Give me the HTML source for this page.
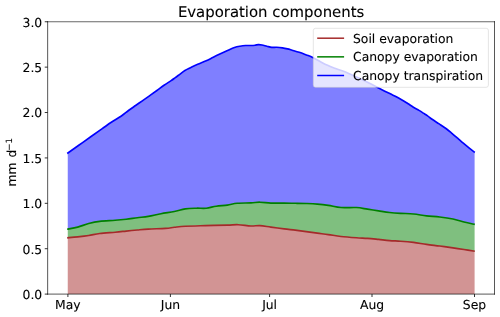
<!DOCTYPE html>
<html><head><meta charset="utf-8"><title>Evaporation components</title>
<style>
html,body{margin:0;padding:0;background:#fff;}
svg{display:block;font-family:"DejaVu Sans","Liberation Sans",sans-serif;}
text{fill:#000;stroke:#000;stroke-width:0.1px;text-rendering:geometricPrecision;}
</style></head><body>
<svg width="500" height="317" viewBox="0 0 500 317">
<rect width="500" height="317" fill="#fff"/>

<path d="M67.75,237.81 C69.41,237.65 74.21,237.23 77.70,236.84 C81.19,236.45 85.03,236.04 88.70,235.48 C92.37,234.93 95.28,234.05 99.70,233.50 C104.12,232.95 110.78,232.60 115.20,232.20 C119.62,231.80 122.52,231.47 126.20,231.10 C129.88,230.73 133.62,230.33 137.30,230.00 C140.98,229.67 143.60,229.37 148.30,229.10 C153.00,228.83 161.17,228.70 165.50,228.40 C169.83,228.10 171.00,227.67 174.30,227.30 C177.60,226.93 180.15,226.48 185.30,226.20 C190.45,225.92 198.20,225.78 205.20,225.60 C212.20,225.42 221.78,225.25 227.30,225.10 C232.82,224.95 234.35,224.55 238.30,224.70 C242.25,224.85 247.40,225.85 251.00,226.00 C254.60,226.15 256.58,225.42 259.90,225.60 C263.22,225.78 266.85,226.55 270.90,227.10 C274.95,227.65 280.15,228.39 284.20,228.90 C288.25,229.41 291.53,229.72 295.20,230.17 C298.87,230.62 302.52,231.11 306.20,231.60 C309.88,232.09 313.62,232.64 317.30,233.13 C320.98,233.62 324.35,234.01 328.30,234.56 C332.25,235.11 336.30,235.92 341.00,236.45 C345.70,236.98 352.08,237.43 356.50,237.74 C360.92,238.06 363.82,238.06 367.50,238.34 C371.18,238.62 374.92,239.05 378.60,239.43 C382.28,239.82 385.93,240.33 389.60,240.63 C393.27,240.93 396.62,240.93 400.60,241.23 C404.58,241.52 409.18,241.89 413.50,242.42 C417.82,242.95 422.13,243.82 426.50,244.42 C430.87,245.02 435.28,245.45 439.70,246.01 C444.12,246.58 448.95,247.23 453.00,247.81 C457.05,248.39 460.40,248.92 464.00,249.50 C467.60,250.09 472.83,251.00 474.60,251.30 L474.60,294.10 C406.79,294.10 135.56,294.10 67.75,294.10 Z" fill="#d29494"/>
<path d="M67.75,229.22 C69.41,228.87 74.21,228.02 77.70,227.08 C81.19,226.14 85.03,224.51 88.70,223.57 C92.37,222.62 95.28,221.94 99.70,221.40 C104.12,220.86 110.78,220.67 115.20,220.30 C119.62,219.93 122.52,219.63 126.20,219.20 C129.88,218.77 133.62,218.17 137.30,217.70 C140.98,217.23 144.35,217.07 148.30,216.40 C152.25,215.73 156.67,214.52 161.00,213.70 C165.33,212.88 170.25,212.30 174.30,211.50 C178.35,210.70 181.62,209.45 185.30,208.90 C188.98,208.35 192.90,208.32 196.40,208.20 C199.90,208.08 203.00,208.53 206.30,208.20 C209.60,207.87 212.70,206.72 216.20,206.20 C219.70,205.68 223.80,205.58 227.30,205.10 C230.80,204.62 233.25,203.67 237.20,203.30 C241.15,202.93 247.22,203.08 251.00,202.90 C254.78,202.72 256.58,202.17 259.90,202.20 C263.22,202.23 266.85,202.95 270.90,203.10 C274.95,203.25 280.15,203.07 284.20,203.10 C288.25,203.13 291.53,203.20 295.20,203.27 C298.87,203.34 302.52,203.39 306.20,203.52 C309.88,203.65 313.62,203.77 317.30,204.06 C320.98,204.36 324.35,204.73 328.30,205.31 C332.25,205.89 336.30,207.18 341.00,207.55 C345.70,207.92 352.08,207.28 356.50,207.55 C360.92,207.82 363.82,208.60 367.50,209.15 C371.18,209.70 374.92,210.30 378.60,210.85 C382.28,211.40 385.93,212.03 389.60,212.45 C393.27,212.87 396.62,213.10 400.60,213.35 C404.58,213.60 409.18,213.53 413.50,213.95 C417.82,214.37 422.13,215.35 426.50,215.85 C430.87,216.35 435.28,216.42 439.70,216.95 C444.12,217.48 448.95,218.18 453.00,219.02 C457.05,219.86 460.40,221.11 464.00,222.01 C467.60,222.91 472.83,224.01 474.60,224.41 L474.60,251.30 C472.83,251.00 467.60,250.09 464.00,249.50 C460.40,248.92 457.05,248.39 453.00,247.81 C448.95,247.23 444.12,246.58 439.70,246.01 C435.28,245.45 430.87,245.02 426.50,244.42 C422.13,243.82 417.82,242.95 413.50,242.42 C409.18,241.89 404.58,241.52 400.60,241.23 C396.62,240.93 393.27,240.93 389.60,240.63 C385.93,240.33 382.28,239.82 378.60,239.43 C374.92,239.05 371.18,238.62 367.50,238.34 C363.82,238.06 360.92,238.06 356.50,237.74 C352.08,237.43 345.70,236.98 341.00,236.45 C336.30,235.92 332.25,235.11 328.30,234.56 C324.35,234.01 320.98,233.62 317.30,233.13 C313.62,232.64 309.88,232.09 306.20,231.60 C302.52,231.11 298.87,230.62 295.20,230.17 C291.53,229.72 288.25,229.41 284.20,228.90 C280.15,228.39 274.95,227.65 270.90,227.10 C266.85,226.55 263.22,225.78 259.90,225.60 C256.58,225.42 254.60,226.15 251.00,226.00 C247.40,225.85 242.25,224.85 238.30,224.70 C234.35,224.55 232.82,224.95 227.30,225.10 C221.78,225.25 212.20,225.42 205.20,225.60 C198.20,225.78 190.45,225.92 185.30,226.20 C180.15,226.48 177.60,226.93 174.30,227.30 C171.00,227.67 169.83,228.10 165.50,228.40 C161.17,228.70 153.00,228.83 148.30,229.10 C143.60,229.37 140.98,229.67 137.30,230.00 C133.62,230.33 129.88,230.73 126.20,231.10 C122.52,231.47 119.62,231.80 115.20,232.20 C110.78,232.60 104.12,232.95 99.70,233.50 C95.28,234.05 92.37,234.93 88.70,235.48 C85.03,236.04 81.19,236.45 77.70,236.84 C74.21,237.23 69.41,237.65 67.75,237.81 Z" fill="#7fbf7f"/>
<path d="M67.75,153.50 C70.28,151.63 77.21,146.40 82.90,142.30 C88.59,138.20 97.17,132.23 101.90,128.90 C106.63,125.57 108.05,124.45 111.30,122.30 C114.55,120.15 118.53,117.94 121.40,115.97 C124.27,114.01 126.13,112.24 128.50,110.50 C130.87,108.76 133.23,107.18 135.60,105.53 C137.97,103.87 140.33,102.23 142.70,100.57 C145.07,98.92 147.43,97.26 149.80,95.57 C152.17,93.89 154.53,92.20 156.90,90.48 C159.27,88.75 161.63,86.84 164.00,85.20 C166.37,83.56 169.27,81.86 171.10,80.64 C172.93,79.41 173.45,78.99 175.00,77.85 C176.55,76.71 178.75,75.03 180.40,73.80 C182.05,72.57 183.20,71.47 184.90,70.45 C186.60,69.43 188.47,68.67 190.60,67.65 C192.73,66.63 195.10,65.48 197.70,64.35 C200.30,63.22 203.60,62.04 206.20,60.85 C208.80,59.66 210.93,58.38 213.30,57.20 C215.67,56.03 218.03,54.91 220.40,53.80 C222.77,52.69 225.15,51.59 227.50,50.55 C229.85,49.51 232.43,48.27 234.50,47.55 C236.57,46.83 238.05,46.58 239.90,46.25 C241.75,45.92 243.70,45.67 245.60,45.55 C247.50,45.42 249.73,45.56 251.30,45.50 C252.87,45.44 253.80,45.35 255.00,45.20 C256.20,45.05 257.33,44.64 258.50,44.60 C259.67,44.56 260.60,44.68 262.00,44.95 C263.40,45.22 265.27,45.80 266.90,46.20 C268.53,46.60 270.18,47.17 271.80,47.35 C273.42,47.53 274.82,47.21 276.60,47.30 C278.38,47.39 280.68,47.63 282.50,47.90 C284.32,48.17 285.90,48.52 287.50,48.90 C289.10,49.28 290.15,49.63 292.10,50.20 C294.05,50.77 296.83,51.52 299.20,52.30 C301.57,53.08 304.05,54.05 306.30,54.90 C308.55,55.75 310.33,56.26 312.70,57.40 C315.07,58.54 318.02,60.40 320.50,61.73 C322.98,63.05 325.22,64.27 327.60,65.35 C329.98,66.43 332.38,67.31 334.80,68.22 C337.22,69.14 339.70,69.90 342.10,70.83 C344.50,71.75 346.83,72.72 349.20,73.75 C351.57,74.78 353.93,75.90 356.30,76.97 C358.67,78.05 361.03,79.09 363.40,80.20 C365.77,81.31 368.13,82.42 370.50,83.65 C372.87,84.88 375.22,86.33 377.60,87.60 C379.98,88.88 382.62,90.22 384.80,91.30 C386.98,92.38 388.78,93.17 390.70,94.08 C392.62,94.98 394.42,95.75 396.30,96.72 C398.18,97.70 400.10,98.79 402.00,99.93 C403.90,101.06 405.80,102.32 407.70,103.53 C409.60,104.73 411.52,106.04 413.40,107.18 C415.28,108.31 417.35,109.37 419.00,110.35 C420.65,111.33 421.87,112.16 423.30,113.08 C424.73,113.99 426.13,114.79 427.60,115.83 C429.07,116.86 430.17,117.95 432.10,119.30 C434.03,120.65 436.83,122.35 439.20,123.92 C441.57,125.50 444.18,127.18 446.30,128.75 C448.42,130.32 450.02,131.75 451.90,133.32 C453.78,134.90 455.70,136.58 457.60,138.23 C459.50,139.88 461.40,141.60 463.30,143.23 C465.20,144.85 467.12,146.40 469.00,147.95 C470.88,149.50 473.67,151.74 474.60,152.50 L474.60,224.41 C472.83,224.01 467.60,222.91 464.00,222.01 C460.40,221.11 457.05,219.86 453.00,219.02 C448.95,218.18 444.12,217.48 439.70,216.95 C435.28,216.42 430.87,216.35 426.50,215.85 C422.13,215.35 417.82,214.37 413.50,213.95 C409.18,213.53 404.58,213.60 400.60,213.35 C396.62,213.10 393.27,212.87 389.60,212.45 C385.93,212.03 382.28,211.40 378.60,210.85 C374.92,210.30 371.18,209.70 367.50,209.15 C363.82,208.60 360.92,207.82 356.50,207.55 C352.08,207.28 345.70,207.92 341.00,207.55 C336.30,207.18 332.25,205.89 328.30,205.31 C324.35,204.73 320.98,204.36 317.30,204.06 C313.62,203.77 309.88,203.65 306.20,203.52 C302.52,203.39 298.87,203.34 295.20,203.27 C291.53,203.20 288.25,203.13 284.20,203.10 C280.15,203.07 274.95,203.25 270.90,203.10 C266.85,202.95 263.22,202.23 259.90,202.20 C256.58,202.17 254.78,202.72 251.00,202.90 C247.22,203.08 241.15,202.93 237.20,203.30 C233.25,203.67 230.80,204.62 227.30,205.10 C223.80,205.58 219.70,205.68 216.20,206.20 C212.70,206.72 209.60,207.87 206.30,208.20 C203.00,208.53 199.90,208.08 196.40,208.20 C192.90,208.32 188.98,208.35 185.30,208.90 C181.62,209.45 178.35,210.70 174.30,211.50 C170.25,212.30 165.33,212.88 161.00,213.70 C156.67,214.52 152.25,215.73 148.30,216.40 C144.35,217.07 140.98,217.23 137.30,217.70 C133.62,218.17 129.88,218.77 126.20,219.20 C122.52,219.63 119.62,219.93 115.20,220.30 C110.78,220.67 104.12,220.86 99.70,221.40 C95.28,221.94 92.37,222.62 88.70,223.57 C85.03,224.51 81.19,226.14 77.70,227.08 C74.21,228.02 69.41,228.87 67.75,229.22 Z" fill="#7f7fff"/>
<path d="M67.20,237.81 C68.95,237.65 74.12,237.23 77.70,236.84 C81.28,236.45 85.03,236.04 88.70,235.48 C92.37,234.93 95.28,234.05 99.70,233.50 C104.12,232.95 110.78,232.60 115.20,232.20 C119.62,231.80 122.52,231.47 126.20,231.10 C129.88,230.73 133.62,230.33 137.30,230.00 C140.98,229.67 143.60,229.37 148.30,229.10 C153.00,228.83 161.17,228.70 165.50,228.40 C169.83,228.10 171.00,227.67 174.30,227.30 C177.60,226.93 180.15,226.48 185.30,226.20 C190.45,225.92 198.20,225.78 205.20,225.60 C212.20,225.42 221.78,225.25 227.30,225.10 C232.82,224.95 234.35,224.55 238.30,224.70 C242.25,224.85 247.40,225.85 251.00,226.00 C254.60,226.15 256.58,225.42 259.90,225.60 C263.22,225.78 266.85,226.55 270.90,227.10 C274.95,227.65 280.15,228.39 284.20,228.90 C288.25,229.41 291.53,229.72 295.20,230.17 C298.87,230.62 302.52,231.11 306.20,231.60 C309.88,232.09 313.62,232.64 317.30,233.13 C320.98,233.62 324.35,234.01 328.30,234.56 C332.25,235.11 336.30,235.92 341.00,236.45 C345.70,236.98 352.08,237.43 356.50,237.74 C360.92,238.06 363.82,238.06 367.50,238.34 C371.18,238.62 374.92,239.05 378.60,239.43 C382.28,239.82 385.93,240.33 389.60,240.63 C393.27,240.93 396.62,240.93 400.60,241.23 C404.58,241.52 409.18,241.89 413.50,242.42 C417.82,242.95 422.13,243.82 426.50,244.42 C430.87,245.02 435.28,245.45 439.70,246.01 C444.12,246.58 448.95,247.23 453.00,247.81 C457.05,248.39 460.37,248.92 464.00,249.50 C467.63,250.09 473.00,251.00 474.80,251.30" fill="none" stroke="#a52a2a" stroke-width="1.65" stroke-linejoin="round" stroke-linecap="butt"/>
<path d="M67.20,229.22 C68.95,228.87 74.12,228.02 77.70,227.08 C81.28,226.14 85.03,224.51 88.70,223.57 C92.37,222.62 95.28,221.94 99.70,221.40 C104.12,220.86 110.78,220.67 115.20,220.30 C119.62,219.93 122.52,219.63 126.20,219.20 C129.88,218.77 133.62,218.17 137.30,217.70 C140.98,217.23 144.35,217.07 148.30,216.40 C152.25,215.73 156.67,214.52 161.00,213.70 C165.33,212.88 170.25,212.30 174.30,211.50 C178.35,210.70 181.62,209.45 185.30,208.90 C188.98,208.35 192.90,208.32 196.40,208.20 C199.90,208.08 203.00,208.53 206.30,208.20 C209.60,207.87 212.70,206.72 216.20,206.20 C219.70,205.68 223.80,205.58 227.30,205.10 C230.80,204.62 233.25,203.67 237.20,203.30 C241.15,202.93 247.22,203.08 251.00,202.90 C254.78,202.72 256.58,202.17 259.90,202.20 C263.22,202.23 266.85,202.95 270.90,203.10 C274.95,203.25 280.15,203.07 284.20,203.10 C288.25,203.13 291.53,203.20 295.20,203.27 C298.87,203.34 302.52,203.39 306.20,203.52 C309.88,203.65 313.62,203.77 317.30,204.06 C320.98,204.36 324.35,204.73 328.30,205.31 C332.25,205.89 336.30,207.18 341.00,207.55 C345.70,207.92 352.08,207.28 356.50,207.55 C360.92,207.82 363.82,208.60 367.50,209.15 C371.18,209.70 374.92,210.30 378.60,210.85 C382.28,211.40 385.93,212.03 389.60,212.45 C393.27,212.87 396.62,213.10 400.60,213.35 C404.58,213.60 409.18,213.53 413.50,213.95 C417.82,214.37 422.13,215.35 426.50,215.85 C430.87,216.35 435.28,216.42 439.70,216.95 C444.12,217.48 448.95,218.18 453.00,219.02 C457.05,219.86 460.37,221.11 464.00,222.01 C467.63,222.91 473.00,224.01 474.80,224.41" fill="none" stroke="#008000" stroke-width="1.65" stroke-linejoin="round" stroke-linecap="butt"/>
<path d="M67.20,153.50 C69.82,151.63 77.12,146.40 82.90,142.30 C88.68,138.20 97.17,132.23 101.90,128.90 C106.63,125.57 108.05,124.45 111.30,122.30 C114.55,120.15 118.53,117.94 121.40,115.97 C124.27,114.01 126.13,112.24 128.50,110.50 C130.87,108.76 133.23,107.18 135.60,105.53 C137.97,103.87 140.33,102.23 142.70,100.57 C145.07,98.92 147.43,97.26 149.80,95.57 C152.17,93.89 154.53,92.20 156.90,90.48 C159.27,88.75 161.63,86.84 164.00,85.20 C166.37,83.56 169.27,81.86 171.10,80.64 C172.93,79.41 173.45,78.99 175.00,77.85 C176.55,76.71 178.75,75.03 180.40,73.80 C182.05,72.57 183.20,71.47 184.90,70.45 C186.60,69.43 188.47,68.67 190.60,67.65 C192.73,66.63 195.10,65.48 197.70,64.35 C200.30,63.22 203.60,62.04 206.20,60.85 C208.80,59.66 210.93,58.38 213.30,57.20 C215.67,56.03 218.03,54.91 220.40,53.80 C222.77,52.69 225.15,51.59 227.50,50.55 C229.85,49.51 232.43,48.27 234.50,47.55 C236.57,46.83 238.05,46.58 239.90,46.25 C241.75,45.92 243.70,45.67 245.60,45.55 C247.50,45.42 249.73,45.56 251.30,45.50 C252.87,45.44 253.80,45.35 255.00,45.20 C256.20,45.05 257.33,44.64 258.50,44.60 C259.67,44.56 260.60,44.68 262.00,44.95 C263.40,45.22 265.27,45.80 266.90,46.20 C268.53,46.60 270.18,47.17 271.80,47.35 C273.42,47.53 274.82,47.21 276.60,47.30 C278.38,47.39 280.68,47.63 282.50,47.90 C284.32,48.17 285.90,48.52 287.50,48.90 C289.10,49.28 290.15,49.63 292.10,50.20 C294.05,50.77 296.83,51.52 299.20,52.30 C301.57,53.08 304.05,54.05 306.30,54.90 C308.55,55.75 310.33,56.26 312.70,57.40 C315.07,58.54 318.02,60.40 320.50,61.73 C322.98,63.05 325.22,64.27 327.60,65.35 C329.98,66.43 332.38,67.31 334.80,68.22 C337.22,69.14 339.70,69.90 342.10,70.83 C344.50,71.75 346.83,72.72 349.20,73.75 C351.57,74.78 353.93,75.90 356.30,76.97 C358.67,78.05 361.03,79.09 363.40,80.20 C365.77,81.31 368.13,82.42 370.50,83.65 C372.87,84.88 375.22,86.33 377.60,87.60 C379.98,88.88 382.62,90.22 384.80,91.30 C386.98,92.38 388.78,93.17 390.70,94.08 C392.62,94.98 394.42,95.75 396.30,96.72 C398.18,97.70 400.10,98.79 402.00,99.93 C403.90,101.06 405.80,102.32 407.70,103.53 C409.60,104.73 411.52,106.04 413.40,107.18 C415.28,108.31 417.35,109.37 419.00,110.35 C420.65,111.33 421.87,112.16 423.30,113.08 C424.73,113.99 426.13,114.79 427.60,115.83 C429.07,116.86 430.17,117.95 432.10,119.30 C434.03,120.65 436.83,122.35 439.20,123.92 C441.57,125.50 444.18,127.18 446.30,128.75 C448.42,130.32 450.02,131.75 451.90,133.32 C453.78,134.90 455.70,136.58 457.60,138.23 C459.50,139.88 461.40,141.60 463.30,143.23 C465.20,144.85 467.08,146.40 469.00,147.95 C470.92,149.50 473.83,151.74 474.80,152.50" fill="none" stroke="#0000ff" stroke-width="1.65" stroke-linejoin="round" stroke-linecap="butt"/>
<line x1="47.65" y1="21.25" x2="47.65" y2="294.6" stroke="#000" stroke-opacity="0.66" stroke-width="1"/>
<line x1="494.5" y1="21.25" x2="494.5" y2="294.6" stroke="#000" stroke-opacity="0.66" stroke-width="1"/>
<line x1="47.15" y1="21.75" x2="495.0" y2="21.75" stroke="#000" stroke-opacity="0.6" stroke-width="1"/>
<line x1="47.15" y1="294.1" x2="495.0" y2="294.1" stroke="#000" stroke-opacity="0.66" stroke-width="1"/>
<line x1="67.9" y1="294.1" x2="67.9" y2="297.0" stroke="#000" stroke-opacity="0.8" stroke-width="1"/>
<text x="67.9" y="309.2" font-size="12.37" text-anchor="middle">May</text>
<line x1="170.4" y1="294.1" x2="170.4" y2="297.0" stroke="#000" stroke-opacity="0.8" stroke-width="1"/>
<text x="170.4" y="309.2" font-size="12.37" text-anchor="middle">Jun</text>
<line x1="269.6" y1="294.1" x2="269.6" y2="297.0" stroke="#000" stroke-opacity="0.8" stroke-width="1"/>
<text x="269.6" y="309.2" font-size="12.37" text-anchor="middle">Jul</text>
<line x1="372.0" y1="294.1" x2="372.0" y2="297.0" stroke="#000" stroke-opacity="0.8" stroke-width="1"/>
<text x="372.0" y="309.2" font-size="12.37" text-anchor="middle">Aug</text>
<line x1="474.5" y1="294.1" x2="474.5" y2="297.0" stroke="#000" stroke-opacity="0.8" stroke-width="1"/>
<text x="474.5" y="309.2" font-size="12.37" text-anchor="middle">Sep</text>
<line x1="44.75" y1="294.10" x2="47.65" y2="294.10" stroke="#000" stroke-opacity="0.8" stroke-width="1"/>
<text x="42.2" y="298.95" font-size="12.37" text-anchor="end">0.0</text>
<line x1="44.75" y1="248.71" x2="47.65" y2="248.71" stroke="#000" stroke-opacity="0.8" stroke-width="1"/>
<text x="42.2" y="253.56" font-size="12.37" text-anchor="end">0.5</text>
<line x1="44.75" y1="203.32" x2="47.65" y2="203.32" stroke="#000" stroke-opacity="0.8" stroke-width="1"/>
<text x="42.2" y="208.17" font-size="12.37" text-anchor="end">1.0</text>
<line x1="44.75" y1="157.93" x2="47.65" y2="157.93" stroke="#000" stroke-opacity="0.8" stroke-width="1"/>
<text x="42.2" y="162.78" font-size="12.37" text-anchor="end">1.5</text>
<line x1="44.75" y1="112.53" x2="47.65" y2="112.53" stroke="#000" stroke-opacity="0.8" stroke-width="1"/>
<text x="42.2" y="117.38" font-size="12.37" text-anchor="end">2.0</text>
<line x1="44.75" y1="67.14" x2="47.65" y2="67.14" stroke="#000" stroke-opacity="0.8" stroke-width="1"/>
<text x="42.2" y="71.99" font-size="12.37" text-anchor="end">2.5</text>
<line x1="44.75" y1="21.75" x2="47.65" y2="21.75" stroke="#000" stroke-opacity="0.8" stroke-width="1"/>
<text x="42.2" y="26.60" font-size="12.37" text-anchor="end">3.0</text>
<text x="271.1" y="16.75" font-size="14.9" text-anchor="middle">Evaporation components</text>
<text transform="translate(15.7,186.6) rotate(-90)" font-size="12.37" word-spacing="1">mm d<tspan dx="-0.9" dy="-3.7" font-size="8.66">−1</tspan></text>
<rect x="313.3" y="28.3" width="175.1" height="59.0" rx="2.2" ry="2.2" fill="#fff" fill-opacity="0.8" stroke="#cccccc" stroke-opacity="0.8" stroke-width="0.65"/>
<line x1="317.2" y1="38.20" x2="344.1" y2="38.20" stroke="#a52a2a" stroke-width="1.5"/>
<text x="353.0" y="42.80" font-size="12.37">Soil evaporation</text>
<line x1="317.2" y1="56.85" x2="344.1" y2="56.85" stroke="#008000" stroke-width="1.5"/>
<text x="353.0" y="61.45" font-size="12.37">Canopy evaporation</text>
<line x1="317.2" y1="75.50" x2="344.1" y2="75.50" stroke="#0000ff" stroke-width="1.5"/>
<text x="353.0" y="80.10" font-size="12.37">Canopy transpiration</text>
</svg></body></html>
